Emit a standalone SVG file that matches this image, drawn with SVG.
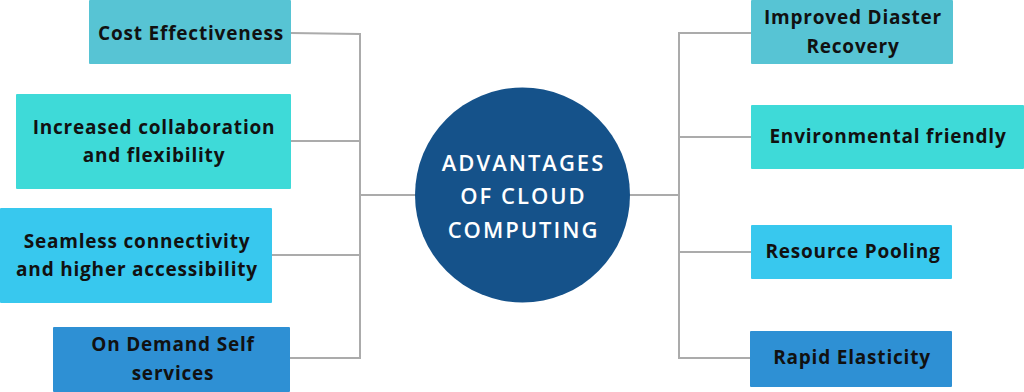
<svg xmlns="http://www.w3.org/2000/svg" width="1024" height="392" viewBox="0 0 1024 392">
<style>
.t{font-family:"Open Sans","Liberation Sans",sans-serif;font-weight:700;font-size:19px;fill:#111;text-anchor:middle;letter-spacing:0.8px}
.c{font-family:"Open Sans","Liberation Sans",sans-serif;font-weight:600;font-size:22px;fill:#fff;text-anchor:middle;letter-spacing:2px}
.l{fill:none;stroke:#ababab;stroke-width:2}
.a{fill:#57c4d4}.b{fill:#3edad8}.s{fill:#38c8ee}.d{fill:#2e90d4}
</style>
<rect width="1024" height="392" fill="#fff"/>
<g id="connectors">
<polyline class="l" points="291,33 360,34 360,358 290,358"/>
<line class="l" x1="291" y1="141" x2="360" y2="141"/>
<line class="l" x1="272" y1="255" x2="360" y2="255"/>
<line class="l" x1="360" y1="195" x2="416" y2="195"/>
<polyline class="l" points="751,33 679,33 679,358 750,358"/>
<line class="l" x1="679" y1="137" x2="751" y2="137"/>
<line class="l" x1="679" y1="252" x2="751" y2="252"/>
<line class="l" x1="629" y1="195" x2="679" y2="195"/>
</g>
<g id="center">
<circle cx="522.5" cy="195" r="107.5" fill="#15528a"/>
<text class="c" x="523.5" y="171">ADVANTAGES</text>
<text class="c" x="523.5" y="204">OF CLOUD</text>
<text class="c" x="523.5" y="238">COMPUTING</text>
</g>
<g id="cost"><rect class="a" x="89" y="0" width="202" height="64" rx="1"/><text class="t" x="191" y="40">Cost Effectiveness</text></g>
<g id="collab"><rect class="b" x="16" y="94" width="275" height="95" rx="1"/><text class="t" x="154" y="134">Increased collaboration</text><text class="t" x="154" y="162">and flexibility</text></g>
<g id="seamless"><rect class="s" x="0" y="208" width="272" height="95" rx="1"/><text class="t" x="137" y="248">Seamless connectivity</text><text class="t" x="137" y="276">and higher accessibility</text></g>
<g id="ondemand"><rect class="d" x="53" y="327" width="237" height="65" rx="1"/><text class="t" x="173" y="351">On Demand Self</text><text class="t" x="173" y="380">services</text></g>
<g id="disaster"><rect class="a" x="751" y="0" width="202" height="64" rx="1"/><text class="t" x="853" y="24">Improved Diaster</text><text class="t" x="853" y="53">Recovery</text></g>
<g id="env"><rect class="b" x="751" y="105" width="273" height="64" rx="1"/><text class="t" x="888" y="143">Environmental friendly</text></g>
<g id="pooling"><rect class="s" x="751" y="225" width="201" height="54" rx="1"/><text class="t" x="853" y="258">Resource Pooling</text></g>
<g id="elastic"><rect class="d" x="750" y="331" width="202" height="56" rx="1"/><text class="t" x="852" y="364">Rapid Elasticity</text></g>
</svg>
